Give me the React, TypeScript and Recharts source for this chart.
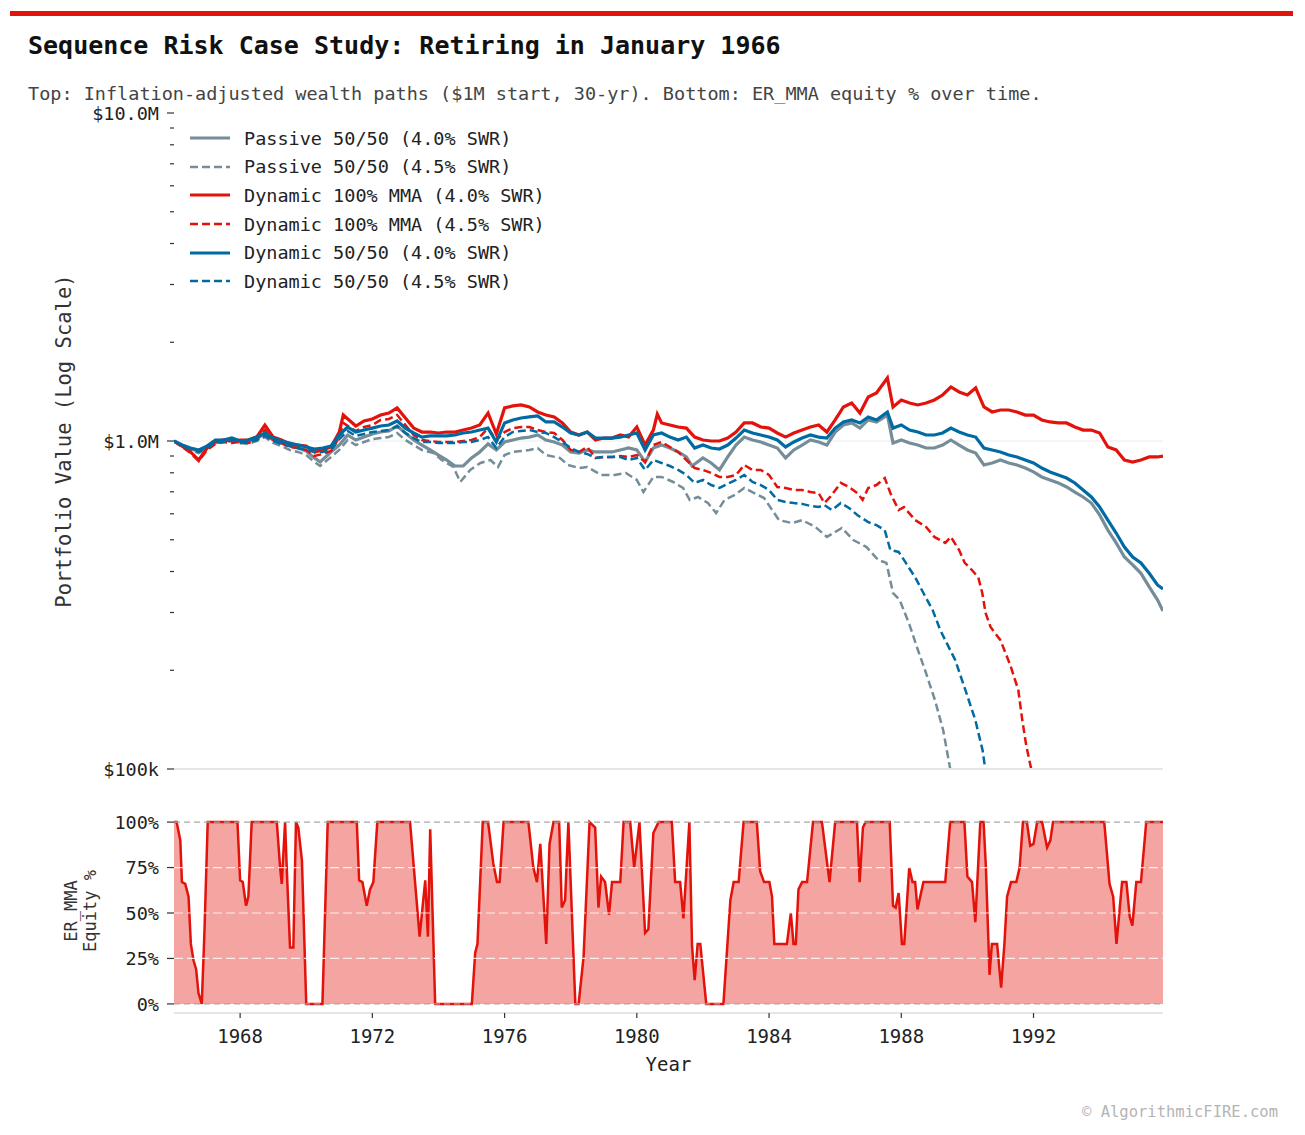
import React from 'react';
import {
  LineChart,
  Line,
  XAxis,
  YAxis,
  CartesianGrid,
  ComposedChart,
  Area,
  ReferenceLine,
} from 'recharts';

const FONT = '"DejaVu Sans Mono", "Liberation Mono", monospace';
const RED = '#E3120B';
const BLUE = '#006BA2';
const GREY = '#758D99';
const INK = '#222222';

const YEAR_TICKS = [1968, 1972, 1976, 1980, 1984, 1988, 1992];
const X_DOMAIN: [number, number] = [1966, 1995.917];

// portfolio values are in $ thousands
const VALUE_MAJOR = [100, 1000, 10000];
const VALUE_MINOR = [200, 300, 400, 500, 600, 700, 800, 900, 2000, 3000, 4000, 5000, 6000, 7000, 8000, 9000];
const EQUITY_TICKS = [0, 25, 50, 75, 100];

// [year, value in $k]
const passive40: [number, number][] = [
  [1966.0, 1000], [1966.25, 965], [1966.5, 945], [1966.75, 932], [1967.0, 965], [1967.25, 1000],
  [1967.5, 1007], [1967.75, 1014], [1968.0, 1000], [1968.25, 1000], [1968.5, 1021], [1968.75, 1050],
  [1969.0, 1007], [1969.25, 986], [1969.5, 965], [1969.75, 952], [1970.0, 932], [1970.25, 888],
  [1970.42, 863], [1970.75, 926], [1971.0, 972], [1971.25, 1043], [1971.5, 1007], [1971.75, 1028],
  [1972.0, 1050], [1972.25, 1065], [1972.5, 1073], [1972.75, 1111], [1973.0, 1058], [1973.25, 1007],
  [1973.5, 972], [1973.75, 939], [1974.0, 906], [1974.25, 875], [1974.5, 839], [1974.75, 839],
  [1975.0, 888], [1975.25, 926], [1975.5, 980], [1975.75, 939], [1976.0, 993], [1976.25, 1007],
  [1976.5, 1021], [1976.75, 1028], [1977.0, 1043], [1977.25, 1007], [1977.5, 993], [1977.75, 972],
  [1978.0, 926], [1978.25, 919], [1978.5, 939], [1978.75, 926], [1979.0, 926], [1979.25, 926],
  [1979.5, 939], [1979.75, 952], [1980.0, 939], [1980.25, 863], [1980.5, 952], [1980.75, 972],
  [1981.0, 952], [1981.25, 926], [1981.5, 894], [1981.67, 839], [1982.0, 888], [1982.25, 857],
  [1982.5, 816], [1982.75, 894], [1983.0, 972], [1983.25, 1028], [1983.5, 1007], [1983.75, 993],
  [1984.0, 972], [1984.25, 952], [1984.5, 888], [1984.75, 939], [1985.0, 972], [1985.25, 1007],
  [1985.5, 993], [1985.75, 972], [1986.0, 1065], [1986.25, 1119], [1986.5, 1135], [1986.75, 1095],
  [1987.0, 1159], [1987.25, 1143], [1987.58, 1200], [1987.75, 986], [1988.0, 1007], [1988.25, 986],
  [1988.5, 972], [1988.75, 952], [1989.0, 952], [1989.25, 972], [1989.5, 1007], [1989.75, 972],
  [1990.0, 939], [1990.25, 919], [1990.5, 845], [1990.75, 857], [1991.0, 875], [1991.25, 857],
  [1991.5, 845], [1991.75, 827], [1992.0, 805], [1992.25, 777], [1992.5, 761], [1992.75, 745],
  [1993.0, 724], [1993.25, 699], [1993.5, 675], [1993.75, 647], [1994.0, 595], [1994.25, 535],
  [1994.5, 489], [1994.75, 443], [1995.0, 419], [1995.25, 395], [1995.5, 359], [1995.75, 328],
  [1995.917, 303],
];

const passive45: [number, number][] = [
  [1966.0, 1000], [1966.25, 959], [1966.5, 939], [1966.75, 919], [1967.0, 952], [1967.25, 986],
  [1967.5, 993], [1967.75, 1000], [1968.0, 986], [1968.25, 979], [1968.5, 1000], [1968.75, 1028],
  [1969.0, 986], [1969.25, 965], [1969.5, 939], [1969.75, 926], [1970.0, 906], [1970.25, 863],
  [1970.42, 839], [1970.75, 894], [1971.0, 939], [1971.25, 1007], [1971.5, 972], [1971.75, 993],
  [1972.0, 1014], [1972.25, 1021], [1972.5, 1028], [1972.75, 1058], [1973.0, 1007], [1973.25, 972],
  [1973.5, 939], [1973.85, 919], [1974.1, 875], [1974.45, 833], [1974.66, 750], [1974.96, 816],
  [1975.27, 857], [1975.57, 875], [1975.8, 833], [1976.0, 906], [1976.25, 926], [1976.5, 932],
  [1976.75, 939], [1977.0, 952], [1977.25, 906], [1977.67, 888], [1977.92, 845], [1978.25, 827],
  [1978.5, 833], [1978.92, 788], [1979.33, 788], [1979.67, 799], [1980.0, 761], [1980.2, 699],
  [1980.5, 777], [1980.75, 777], [1981.1, 750], [1981.4, 719], [1981.6, 661], [1981.85, 675],
  [1982.15, 647], [1982.4, 603], [1982.65, 661], [1982.95, 684], [1983.25, 719], [1983.55, 694],
  [1983.85, 670], [1984.3, 574], [1984.7, 562], [1985.0, 574], [1985.4, 547], [1985.75, 510],
  [1986.2, 543], [1986.55, 499], [1986.95, 475], [1987.3, 434], [1987.55, 425], [1987.75, 344],
  [1987.95, 328], [1988.25, 275], [1988.5, 231], [1988.72, 200], [1989.02, 162], [1989.27, 131],
  [1989.48, 100], [1989.6, 80],
];

const dyn100_40: [number, number][] = [
  [1966.0, 1000], [1966.25, 965], [1966.5, 926], [1966.75, 875], [1967.0, 952], [1967.25, 993],
  [1967.5, 1007], [1967.75, 1000], [1968.0, 1007], [1968.25, 1007], [1968.5, 1028], [1968.75, 1119],
  [1969.0, 1028], [1969.25, 1007], [1969.5, 979], [1969.75, 972], [1970.0, 965], [1970.25, 926],
  [1970.5, 939], [1970.75, 959], [1971.0, 1065], [1971.12, 1200], [1971.5, 1111], [1971.75, 1151],
  [1972.0, 1167], [1972.25, 1200], [1972.5, 1217], [1972.75, 1261], [1973.0, 1175], [1973.25, 1095],
  [1973.5, 1065], [1973.75, 1065], [1974.0, 1058], [1974.25, 1065], [1974.5, 1065], [1974.75, 1080],
  [1975.0, 1095], [1975.25, 1119], [1975.5, 1217], [1975.75, 1050], [1976.0, 1261], [1976.25, 1279],
  [1976.5, 1288], [1976.75, 1270], [1977.0, 1226], [1977.25, 1200], [1977.5, 1184], [1977.75, 1135],
  [1978.0, 1065], [1978.25, 1043], [1978.5, 1065], [1978.75, 1007], [1979.0, 1021], [1979.25, 1021],
  [1979.5, 1043], [1979.75, 1028], [1980.0, 1103], [1980.25, 972], [1980.5, 1080], [1980.62, 1208],
  [1980.75, 1135], [1981.0, 1119], [1981.25, 1103], [1981.5, 1095], [1981.75, 1028], [1982.0, 1007],
  [1982.25, 1000], [1982.5, 1000], [1982.75, 1021], [1983.0, 1065], [1983.25, 1135], [1983.5, 1135],
  [1983.75, 1103], [1984.0, 1095], [1984.25, 1058], [1984.5, 1028], [1984.75, 1058], [1985.0, 1080],
  [1985.25, 1103], [1985.5, 1119], [1985.75, 1065], [1986.0, 1159], [1986.25, 1270], [1986.5, 1306],
  [1986.75, 1217], [1987.0, 1362], [1987.25, 1401], [1987.58, 1556], [1987.75, 1270], [1988.0, 1334],
  [1988.25, 1306], [1988.5, 1288], [1988.75, 1306], [1989.0, 1334], [1989.25, 1381], [1989.5, 1461],
  [1989.75, 1411], [1990.0, 1381], [1990.25, 1451], [1990.5, 1270], [1990.75, 1226], [1991.0, 1243],
  [1991.25, 1243], [1991.5, 1226], [1991.75, 1200], [1992.0, 1200], [1992.25, 1159], [1992.5, 1143],
  [1992.75, 1135], [1993.0, 1135], [1993.25, 1103], [1993.5, 1080], [1993.75, 1080], [1994.0, 1058],
  [1994.25, 959], [1994.5, 939], [1994.75, 875], [1995.0, 863], [1995.25, 875], [1995.5, 894],
  [1995.75, 894], [1995.917, 900],
];

const dyn100_45: [number, number][] = [
  [1966.0, 1000], [1966.25, 959], [1966.5, 919], [1966.75, 869], [1967.0, 939], [1967.25, 979],
  [1967.5, 993], [1967.75, 986], [1968.0, 993], [1968.25, 986], [1968.5, 1007], [1968.75, 1080],
  [1969.0, 1007], [1969.25, 986], [1969.5, 959], [1969.75, 952], [1970.0, 939], [1970.25, 900],
  [1970.5, 913], [1970.75, 932], [1971.0, 1028], [1971.12, 1135], [1971.5, 1073], [1971.75, 1103],
  [1972.0, 1119], [1972.25, 1159], [1972.5, 1167], [1972.75, 1200], [1973.0, 1119], [1973.25, 1043],
  [1973.5, 1007], [1973.75, 1000], [1974.0, 993], [1974.25, 993], [1974.5, 993], [1974.75, 1000],
  [1975.0, 1007], [1975.25, 1028], [1975.5, 1095], [1975.75, 1007], [1976.0, 1065], [1976.25, 1095],
  [1976.5, 1103], [1976.75, 1103], [1977.0, 1080], [1977.25, 1065], [1977.5, 1058], [1977.75, 1007],
  [1978.0, 939], [1978.25, 926], [1978.5, 959], [1978.75, 888], [1979.0, 894], [1979.25, 894],
  [1979.5, 900], [1979.75, 894], [1980.0, 906], [1980.25, 863], [1980.5, 972], [1980.75, 993],
  [1981.0, 959], [1981.25, 926], [1981.5, 875], [1981.75, 827], [1982.0, 816], [1982.25, 799],
  [1982.5, 777], [1982.75, 777], [1983.0, 788], [1983.25, 845], [1983.5, 816], [1983.75, 816],
  [1984.0, 788], [1984.25, 724], [1984.5, 719], [1984.75, 709], [1985.0, 709], [1985.25, 699],
  [1985.5, 694], [1985.67, 647], [1985.85, 675], [1986.17, 745], [1986.42, 724], [1986.67, 694],
  [1986.83, 661], [1987.0, 719], [1987.25, 734], [1987.5, 771], [1987.67, 694], [1987.92, 616],
  [1988.08, 629], [1988.42, 574], [1988.75, 547], [1989.0, 510], [1989.33, 489], [1989.5, 510],
  [1989.75, 465], [1989.92, 425], [1990.08, 410], [1990.33, 384], [1990.45, 344], [1990.55, 299],
  [1990.7, 271], [1991.0, 247], [1991.3, 207], [1991.54, 174], [1991.66, 141], [1991.78, 118],
  [1991.93, 100], [1992.05, 80],
];

const dyn5050_40: [number, number][] = [
  [1966.0, 1000], [1966.25, 972], [1966.5, 952], [1966.75, 939], [1967.0, 965], [1967.25, 1007],
  [1967.5, 1007], [1967.75, 1021], [1968.0, 1000], [1968.25, 1007], [1968.5, 1028], [1968.75, 1058],
  [1969.0, 1021], [1969.25, 1000], [1969.5, 986], [1969.75, 972], [1970.0, 959], [1970.25, 945],
  [1970.5, 952], [1970.75, 965], [1971.0, 1043], [1971.25, 1103], [1971.5, 1065], [1971.75, 1080],
  [1972.0, 1095], [1972.25, 1111], [1972.5, 1119], [1972.75, 1151], [1973.0, 1095], [1973.25, 1058],
  [1973.5, 1028], [1973.75, 1036], [1974.0, 1036], [1974.25, 1036], [1974.5, 1043], [1974.75, 1058],
  [1975.0, 1065], [1975.25, 1080], [1975.5, 1095], [1975.75, 993], [1976.0, 1135], [1976.25, 1159],
  [1976.5, 1175], [1976.75, 1184], [1977.0, 1192], [1977.25, 1143], [1977.5, 1143], [1977.75, 1103],
  [1978.0, 1058], [1978.25, 1043], [1978.5, 1065], [1978.75, 1021], [1979.0, 1021], [1979.25, 1021],
  [1979.5, 1028], [1979.75, 1043], [1980.0, 1058], [1980.25, 939], [1980.5, 1043], [1980.75, 1058],
  [1981.0, 1028], [1981.25, 1007], [1981.5, 1028], [1981.75, 952], [1982.0, 972], [1982.25, 952],
  [1982.5, 945], [1982.75, 972], [1983.0, 1021], [1983.25, 1080], [1983.5, 1058], [1983.75, 1043],
  [1984.0, 1028], [1984.25, 1007], [1984.5, 959], [1984.75, 993], [1985.0, 1021], [1985.25, 1043],
  [1985.5, 1028], [1985.75, 1021], [1986.0, 1095], [1986.25, 1143], [1986.5, 1159], [1986.75, 1135],
  [1987.0, 1184], [1987.25, 1159], [1987.58, 1226], [1987.75, 1095], [1988.0, 1119], [1988.25, 1080],
  [1988.5, 1065], [1988.75, 1043], [1989.0, 1043], [1989.25, 1058], [1989.5, 1095], [1989.75, 1065],
  [1990.0, 1043], [1990.25, 1028], [1990.5, 952], [1990.75, 939], [1991.0, 926], [1991.25, 906],
  [1991.5, 894], [1991.75, 875], [1992.0, 857], [1992.25, 827], [1992.5, 805], [1992.75, 788],
  [1993.0, 771], [1993.25, 745], [1993.5, 709], [1993.75, 675], [1994.0, 629], [1994.25, 574],
  [1994.5, 524], [1994.75, 475], [1995.0, 443], [1995.25, 425], [1995.5, 395], [1995.75, 364],
  [1995.917, 354],
];

const dyn5050_45: [number, number][] = [
  [1966.0, 1000], [1966.25, 965], [1966.5, 945], [1966.75, 926], [1967.0, 952], [1967.25, 993],
  [1967.5, 993], [1967.75, 1007], [1968.0, 986], [1968.25, 993], [1968.5, 1007], [1968.75, 1036],
  [1969.0, 1000], [1969.25, 979], [1969.5, 965], [1969.75, 952], [1970.0, 939], [1970.25, 926],
  [1970.5, 926], [1970.75, 939], [1971.0, 1014], [1971.25, 1073], [1971.5, 1036], [1971.75, 1050],
  [1972.0, 1065], [1972.25, 1073], [1972.5, 1080], [1972.75, 1111], [1973.0, 1058], [1973.25, 1021],
  [1973.5, 993], [1973.75, 993], [1974.0, 986], [1974.25, 986], [1974.5, 986], [1974.75, 993],
  [1975.0, 993], [1975.25, 1007], [1975.5, 1028], [1975.75, 952], [1976.0, 1028], [1976.25, 1065],
  [1976.5, 1073], [1976.75, 1080], [1977.0, 1065], [1977.25, 1058], [1977.5, 1028], [1977.75, 993],
  [1978.0, 952], [1978.25, 926], [1978.5, 913], [1978.75, 888], [1979.0, 894], [1979.25, 894],
  [1979.5, 894], [1979.75, 875], [1980.0, 888], [1980.25, 816], [1980.5, 875], [1980.75, 857],
  [1981.0, 839], [1981.25, 816], [1981.5, 788], [1981.75, 745], [1982.0, 761], [1982.25, 734],
  [1982.5, 719], [1982.75, 740], [1983.0, 761], [1983.25, 788], [1983.5, 750], [1983.75, 734],
  [1984.0, 709], [1984.25, 661], [1984.5, 652], [1984.75, 647], [1985.0, 643], [1985.25, 634],
  [1985.5, 629], [1985.67, 638], [1985.9, 616], [1986.17, 647], [1986.42, 625], [1986.67, 595],
  [1987.0, 566], [1987.25, 554], [1987.5, 535], [1987.67, 465], [1987.92, 459], [1988.08, 434],
  [1988.42, 384], [1988.67, 344], [1988.95, 305], [1989.18, 265], [1989.63, 215], [1989.94, 174],
  [1990.24, 141], [1990.46, 114], [1990.54, 100], [1990.65, 80],
];

// [year, ER_MMA equity %]
const equityPct: [number, number][] = [
  [1966.0, 100], [1966.08, 100], [1966.19, 90], [1966.24, 67], [1966.34, 66], [1966.44, 59],
  [1966.51, 33], [1966.59, 24], [1966.67, 19], [1966.74, 6], [1966.84, 0], [1966.92, 39],
  [1967.02, 100], [1967.92, 100], [1968.0, 68], [1968.08, 67], [1968.18, 54], [1968.25, 59],
  [1968.35, 100], [1969.11, 100], [1969.21, 75], [1969.26, 66], [1969.36, 100], [1969.41, 75],
  [1969.51, 31], [1969.61, 31], [1969.69, 100], [1969.76, 97], [1969.87, 79], [1970.0, 0],
  [1970.49, 0], [1970.65, 100], [1971.53, 100], [1971.6, 68], [1971.7, 67], [1971.83, 54],
  [1971.93, 63], [1972.03, 67], [1972.15, 100], [1973.14, 100], [1973.43, 37], [1973.6, 68],
  [1973.68, 37], [1973.75, 96], [1973.9, 0], [1975.01, 0], [1975.11, 28], [1975.18, 33],
  [1975.34, 100], [1975.5, 100], [1975.66, 77], [1975.77, 67], [1975.85, 67], [1975.97, 100],
  [1976.72, 100], [1976.87, 75], [1976.98, 67], [1977.08, 88], [1977.26, 33], [1977.36, 88],
  [1977.48, 100], [1977.65, 100], [1977.73, 53], [1977.83, 57], [1977.93, 100], [1978.14, 0],
  [1978.24, 0], [1978.39, 26], [1978.57, 100], [1978.74, 97], [1978.84, 53], [1978.92, 70],
  [1979.04, 67], [1979.16, 49], [1979.25, 67], [1979.5, 67], [1979.6, 100], [1979.8, 100],
  [1979.92, 75], [1980.08, 100], [1980.25, 39], [1980.35, 41], [1980.5, 94], [1980.66, 100],
  [1981.06, 100], [1981.16, 67], [1981.31, 67], [1981.41, 47], [1981.59, 100], [1981.67, 32],
  [1981.75, 13], [1981.84, 33], [1981.92, 33], [1982.1, 0], [1982.62, 0], [1982.83, 57],
  [1982.93, 67], [1983.08, 67], [1983.23, 100], [1983.63, 100], [1983.73, 73], [1983.85, 67],
  [1984.01, 67], [1984.09, 59], [1984.16, 33], [1984.54, 33], [1984.66, 50], [1984.74, 33],
  [1984.81, 33], [1984.89, 63], [1985.0, 67], [1985.15, 67], [1985.33, 100], [1985.6, 100],
  [1985.83, 67], [1986.0, 100], [1986.66, 100], [1986.74, 67], [1986.84, 97], [1986.92, 100],
  [1987.65, 100], [1987.75, 54], [1987.83, 53], [1987.92, 61], [1988.02, 33], [1988.09, 33],
  [1988.24, 75], [1988.34, 67], [1988.42, 67], [1988.49, 52], [1988.67, 67], [1989.33, 67],
  [1989.48, 100], [1989.91, 100], [1990.0, 70], [1990.14, 67], [1990.24, 45], [1990.39, 100],
  [1990.49, 100], [1990.56, 75], [1990.67, 16], [1990.74, 33], [1990.9, 33], [1991.02, 9],
  [1991.12, 33], [1991.2, 59], [1991.32, 67], [1991.48, 67], [1991.58, 75], [1991.68, 100],
  [1991.8, 100], [1991.9, 87], [1992.0, 88], [1992.11, 100], [1992.26, 100], [1992.41, 86],
  [1992.51, 90], [1992.59, 100], [1994.14, 100], [1994.3, 66], [1994.41, 59], [1994.51, 33],
  [1994.68, 67], [1994.81, 67], [1994.91, 48], [1994.99, 43], [1995.11, 67], [1995.25, 67],
  [1995.41, 100], [1995.917, 100],
];

const SERIES = [
  { name: 'Passive 50/50 (4.0% SWR)', points: passive40, color: GREY, dashed: false },
  { name: 'Passive 50/50 (4.5% SWR)', points: passive45, color: GREY, dashed: true },
  { name: 'Dynamic 100% MMA (4.0% SWR)', points: dyn100_40, color: RED, dashed: false },
  { name: 'Dynamic 100% MMA (4.5% SWR)', points: dyn100_45, color: RED, dashed: true },
  { name: 'Dynamic 50/50 (4.0% SWR)', points: dyn5050_40, color: BLUE, dashed: false },
  { name: 'Dynamic 50/50 (4.5% SWR)', points: dyn5050_45, color: BLUE, dashed: true },
];

const DASH = '8 4';
const toRows = (pts: [number, number][]) => pts.map(([t, v]) => ({ t, v }));
const equityRows = equityPct.map(([t, pct]) => ({ t, pct }));

const fmtMoney = (v: number) => (v >= 1000 ? `$${(v / 1000).toFixed(1)}M` : `$${v}k`);

const TICK_GAP = 15;
const TICK_FONT = 18.5;

const ValueTick = (props: any) => {
  const { x, y, payload } = props;
  const v = payload.value as number;
  const major = VALUE_MAJOR.includes(v);
  const edge = x + TICK_GAP;
  return (
    <g>
      <line x1={edge - (major ? 7 : 4)} x2={edge} y1={y} y2={y} stroke="#333" strokeWidth={1.2} />
      {major && (
        <text x={x} y={y} dy="0.36em" textAnchor="end" fill={INK} fontSize={TICK_FONT} fontFamily={FONT}>
          {fmtMoney(v)}
        </text>
      )}
    </g>
  );
};

const PctTick = (props: any) => {
  const { x, y, payload } = props;
  const edge = x + TICK_GAP;
  return (
    <g>
      <line x1={edge - 7} x2={edge} y1={y} y2={y} stroke="#333" strokeWidth={1.2} />
      <text x={x} y={y} dy="0.36em" textAnchor="end" fill={INK} fontSize={TICK_FONT} fontFamily={FONT}>
        {`${payload.value}%`}
      </text>
    </g>
  );
};

const LegendBlock = () => (
  <div style={{ position: 'absolute', left: 189, top: 124, fontFamily: FONT, fontSize: 18.5, color: INK }}>
    {SERIES.map((s) => (
      <div key={s.name} style={{ height: 28.6, display: 'flex', alignItems: 'center' }}>
        <svg width={42} height={10} style={{ marginRight: 13 }}>
          <line
            x1={1}
            x2={41}
            y1={5}
            y2={5}
            stroke={s.color}
            strokeWidth={s.dashed ? 2.5 : 3.2}
            strokeDasharray={s.dashed ? DASH : undefined}
          />
        </svg>
        <span style={{ whiteSpace: 'pre' }}>{s.name}</span>
      </div>
    ))}
  </div>
);

export default function App() {
  return (
    <div
      style={{
        position: 'absolute',
        left: 0,
        top: 0,
        width: 1305,
        height: 1135,
        background: '#fff',
        fontFamily: FONT,
        overflow: 'hidden',
      }}
    >
      <div style={{ position: 'absolute', left: 10, top: 11, width: 1283, height: 5, background: RED }} />
      <div
        style={{
          position: 'absolute',
          left: 28,
          top: 30,
          fontSize: 25,
          fontWeight: 'bold',
          color: '#111',
          whiteSpace: 'pre',
          lineHeight: '32px',
        }}
      >
        Sequence Risk Case Study: Retiring in January 1966
      </div>
      <div
        style={{
          position: 'absolute',
          left: 28,
          top: 84,
          fontSize: 18.5,
          color: '#444',
          whiteSpace: 'pre',
          lineHeight: '19px',
        }}
      >
        Top: Inflation-adjusted wealth paths ($1M start, 30-yr). Bottom: ER_MMA equity % over time.
      </div>

      {/* wealth paths, log scale */}
      <div style={{ position: 'absolute', left: 0, top: 100 }}>
        <LineChart width={1305} height={700} margin={{ top: 13, right: 142, bottom: 11, left: 74 }}>
          <CartesianGrid horizontal vertical={false} horizontalValues={[1000]} stroke="#f2f2f2" strokeWidth={1.5} />
          <XAxis
            type="number"
            dataKey="t"
            domain={X_DOMAIN}
            allowDataOverflow
            ticks={YEAR_TICKS}
            tick={false}
            height={20}
            tickSize={5}
            tickLine={{ stroke: '#333', strokeWidth: 1.2 }}
            axisLine={{ stroke: '#e6e6e6', strokeWidth: 2 }}
          />
          <YAxis
            type="number"
            scale="log"
            domain={[100, 10000]}
            allowDataOverflow
            ticks={[...VALUE_MAJOR, ...VALUE_MINOR].sort((a, b) => a - b)}
            interval={0}
            width={100}
            axisLine={false}
            tickLine={false}
            tickSize={0}
            tickMargin={TICK_GAP}
            tick={<ValueTick />}
            label={({ viewBox }: any) => (
              <text
                x={viewBox.x - 10}
                y={viewBox.y + viewBox.height / 2}
                transform={`rotate(-90 ${viewBox.x - 10} ${viewBox.y + viewBox.height / 2})`}
                textAnchor="middle"
                dominantBaseline="central"
                fill="#333"
                fontSize={20.5}
                fontFamily={FONT}
              >
                Portfolio Value (Log Scale)
              </text>
            )}
          />
          {SERIES.map((s) => (
            <Line
              key={s.name}
              data={toRows(s.points)}
              dataKey="v"
              name={s.name}
              type="linear"
              stroke={s.color}
              strokeWidth={s.dashed ? 2.5 : 3.2}
              strokeDasharray={s.dashed ? DASH : undefined}
              dot={false}
              activeDot={false}
              isAnimationActive={false}
            />
          ))}
        </LineChart>
      </div>
      <LegendBlock />

      {/* ER_MMA equity allocation */}
      <div style={{ position: 'absolute', left: 0, top: 790 }}>
        <ComposedChart
          width={1305}
          height={300}
          data={equityRows}
          margin={{ top: 23, right: 142, bottom: 27, left: 74 }}
        >
          <XAxis
            type="number"
            dataKey="t"
            domain={X_DOMAIN}
            allowDataOverflow
            ticks={YEAR_TICKS}
            height={50}
            tickSize={5}
            tickMargin={12}
            tickLine={{ stroke: '#333', strokeWidth: 1.2 }}
            axisLine={{ stroke: '#e6e6e6', strokeWidth: 2 }}
            tick={{ fill: INK, fontSize: 19, fontFamily: FONT }}
            label={{
              value: 'Year',
              position: 'insideBottom',
              offset: -8,
              fill: INK,
              fontSize: 19,
              fontFamily: FONT,
            }}
          />
          <YAxis
            type="number"
            domain={[-5, 105]}
            allowDataOverflow
            ticks={EQUITY_TICKS}
            interval={0}
            width={100}
            axisLine={false}
            tickLine={false}
            tickSize={0}
            tickMargin={TICK_GAP}
            tick={<PctTick />}
            label={({ viewBox }: any) => {
              const cy = viewBox.y + viewBox.height / 2 - 2;
              return (
                <g fontFamily={FONT} fontSize={17} fill="#333">
                  <text x={71} y={cy} transform={`rotate(-90 71 ${cy})`} textAnchor="middle" dominantBaseline="central">
                    ER_MMA
                  </text>
                  <text x={90} y={cy} transform={`rotate(-90 90 ${cy})`} textAnchor="middle" dominantBaseline="central">
                    Equity %
                  </text>
                </g>
              );
            }}
          />
          <Area
            dataKey="pct"
            type="linear"
            baseValue={0}
            stroke={RED}
            strokeWidth={2.5}
            fill={RED}
            fillOpacity={0.38}
            dot={false}
            activeDot={false}
            isAnimationActive={false}
          />
          {[25, 50, 75].map((g) => (
            <ReferenceLine key={g} y={g} stroke="#ffffff" strokeOpacity={0.8} strokeWidth={1.2} strokeDasharray="9 4" />
          ))}
          <ReferenceLine y={100} stroke="#a8a8a8" strokeWidth={1.4} strokeDasharray="6 4" />
          <ReferenceLine y={0} stroke="#a8a8a8" strokeWidth={1.4} strokeDasharray="6 4" />
        </ComposedChart>
      </div>

      <div
        style={{
          position: 'absolute',
          right: 27,
          top: 1102,
          fontSize: 15.5,
          color: '#b4b4b4',
          whiteSpace: 'pre',
          lineHeight: '20px',
        }}
      >
        © AlgorithmicFIRE.com
      </div>
    </div>
  );
}
